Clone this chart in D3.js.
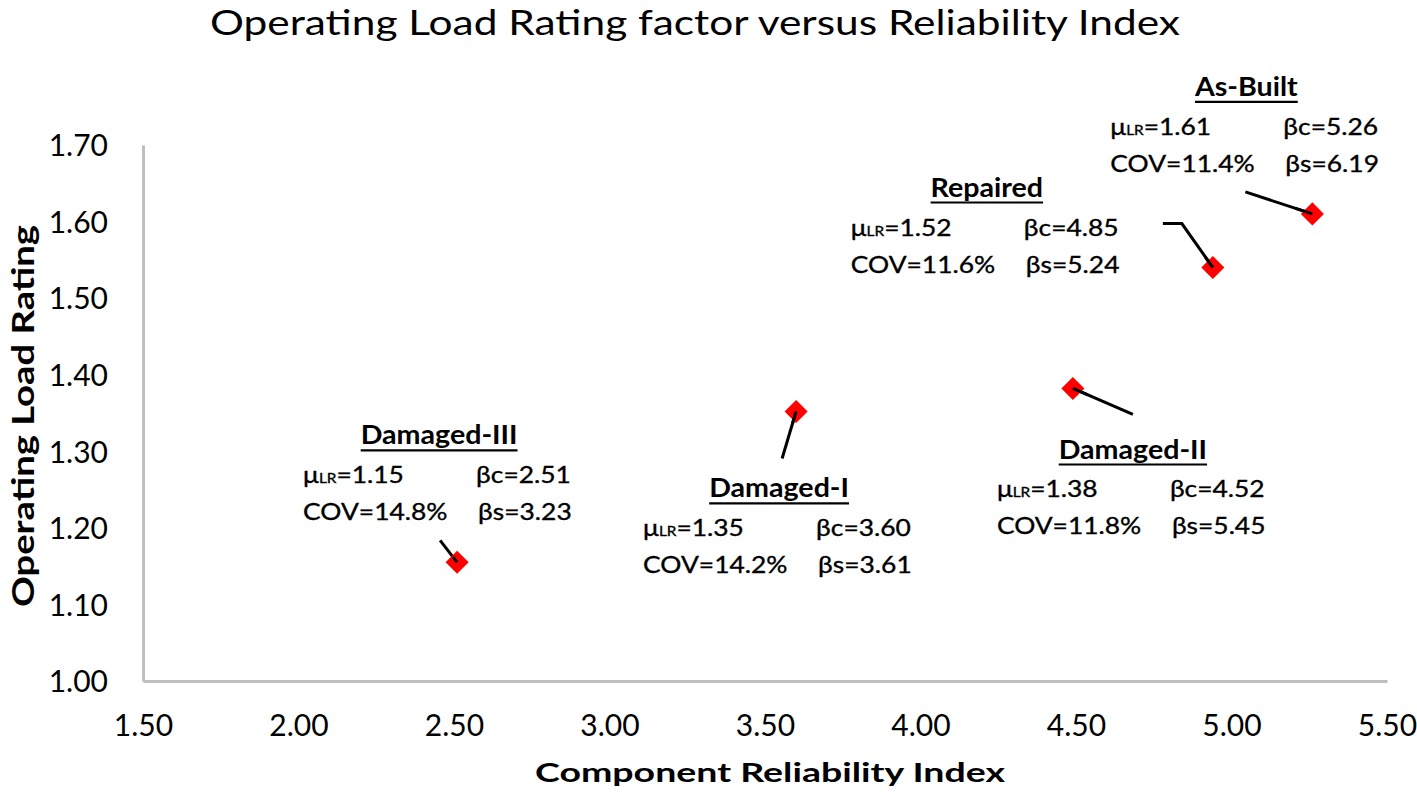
<!DOCTYPE html>
<html><head><meta charset="utf-8">
<script src="https://cdn.jsdelivr.net/npm/d3@7"></script>
<style>
body{margin:0;background:#fff;}
svg{display:block;font-family:Lato, "Open Sans", sans-serif;}
</style></head>
<body><svg id="chart" width="1417" height="796"></svg>
<script>
// ---- data ----
const categories = ["As-Built", "Repaired", "Damaged-I", "Damaged-II", "Damaged-III"];
const reliabilityIndex = [5.26, 4.94, 3.60, 4.49, 2.51];     // plotted x
const loadRating = [1.61, 1.54, 1.352, 1.382, 1.155];       // plotted y
const muLR = ["1.61", "1.52", "1.35", "1.38", "1.15"];
const covText = ["11.4%", "11.6%", "14.2%", "11.8%", "14.8%"];
const betaC = ["5.26", "4.85", "3.60", "4.52", "2.51"];
const betaS = ["6.19", "5.24", "3.61", "5.45", "3.23"];
const xTicks = [1.5, 2.0, 2.5, 3.0, 3.5, 4.0, 4.5, 5.0, 5.5];
const yTicks = [1.0, 1.1, 1.2, 1.3, 1.4, 1.5, 1.6, 1.7];

// ---- annotation layout (pixel offsets from each point) ----
const blockOffset = [[-202, -79], [-362, -32], [-153, 125], [-76, 109], [-154, -79]];
const leaderPts = [[[-67, -22]], [[-50, -44], [-31, -44]], [[-14, 47]], [[60, 26]], [[-17, -22]]];

const svg = d3.select("#chart");
const x = d3.scaleLinear().domain([1.5, 5.5]).range([143, 1387]);
const y = d3.scaleLinear().domain([1.0, 1.7]).range([681, 145]);

// title
svg.append("text").attr("x", 695).attr("y", 35).attr("text-anchor", "middle")
  .attr("font-size", 35).attr("fill", "#000")
  .attr("textLength", 970).attr("lengthAdjust", "spacingAndGlyphs")
  .text("Operating Load Rating factor versus Reliability Index");

// axes
const xAxis = svg.append("g").attr("transform", "translate(0,681)")
  .call(d3.axisBottom(x).tickValues(xTicks).tickSize(0).tickPadding(0).tickFormat(d3.format(".2f")));
const yAxis = svg.append("g").attr("transform", "translate(143,0)")
  .call(d3.axisLeft(y).tickValues(yTicks).tickSize(0).tickPadding(0).tickFormat(d3.format(".2f")));
[xAxis, yAxis].forEach(g => {
  g.select(".domain").attr("stroke", "#BFBFBF").attr("stroke-width", 3);
  g.selectAll("text").attr("font-size", 30).attr("fill", "#000").attr("font-family", "Lato");
});
xAxis.selectAll("text").attr("dy", null).attr("y", 55);
yAxis.selectAll("text").attr("dy", "0.36em").attr("x", -35);

// axis titles
svg.append("text").attr("x", 770).attr("y", 782).attr("text-anchor", "middle")
  .attr("font-size", 26).attr("font-weight", "bold")
  .attr("textLength", 470).attr("lengthAdjust", "spacingAndGlyphs")
  .text("Component Reliability Index");
svg.append("text").attr("transform", "translate(34,416) scale(1.2,1) rotate(-90)").attr("text-anchor", "middle")
  .attr("font-size", 26).attr("font-weight", "bold")
  .attr("textLength", 382).attr("lengthAdjust", "spacingAndGlyphs")
  .text("Operating Load Rating");

// leader lines
const pts = categories.map((c, i) => ({c, i, px: x(reliabilityIndex[i]), py: y(loadRating[i])}));
svg.append("g").selectAll("path").data(pts).join("path")
  .attr("fill", "none").attr("stroke", "#000").attr("stroke-width", 3)
  .attr("d", d => d3.line()([...leaderPts[d.i].map(o => [d.px + o[0], d.py + o[1]]), [d.px, d.py]]));

// markers
svg.append("g").selectAll("path").data(pts).join("path")
  .attr("transform", d => `translate(${d.px},${d.py})`)
  .attr("d", d3.symbol().type(d3.symbolDiamond2).size(340))
  .attr("fill", "#FF0000");
// leader tips drawn over the markers (as in reference)
svg.append("g").selectAll("path").data(pts).join("path")
  .attr("fill", "none").attr("stroke", "#000").attr("stroke-width", 3)
  .attr("d", d => {
    const a = leaderPts[d.i][leaderPts[d.i].length - 1];
    const t = 0.25;
    return d3.line()([[d.px + a[0] * t, d.py + a[1] * t], [d.px, d.py]]);
  });

// annotation blocks
const sx = 1.1;
pts.forEach(d => {
  const bx = d.px + blockOffset[d.i][0], by = d.py + blockOffset[d.i][1];
  const g = svg.append("g").attr("transform", `translate(${bx},${by}) scale(${sx},1)`)
    .attr("font-size", 24).attr("fill", "#000");
  const t = g.append("text").attr("x", 136 / sx).attr("y", -39).attr("text-anchor", "middle")
    .attr("font-size", 26).attr("font-weight", "bold").text(d.c);
  const w = t.node().getComputedTextLength();
  g.append("line").attr("x1", 136 / sx - w / 2).attr("x2", 136 / sx + w / 2)
    .attr("y1", -33).attr("y2", -33).attr("stroke", "#000").attr("stroke-width", 2.2);
  const reg = g.append("g").attr("stroke", "#000").attr("stroke-width", 0.35);
  const l1 = reg.append("text").attr("x", 0).attr("y", 0);
  l1.append("tspan").text("μ");
  l1.append("tspan").attr("font-size", 14).text("LR");
  l1.append("tspan").text("=" + muLR[d.i]);
  reg.append("text").attr("x", 173 / sx).attr("y", 0).text("βc=" + betaC[d.i]);
  reg.append("text").attr("x", 0).attr("y", 37).text("COV=" + covText[d.i]);
  reg.append("text").attr("x", 175 / sx).attr("y", 37).text("βs=" + betaS[d.i]);
});
</script></body></html>
